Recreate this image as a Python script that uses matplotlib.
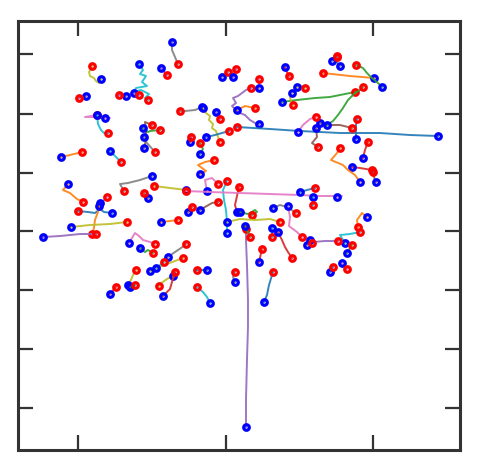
"""Particle tracks in image coordinates: blue ring = first frame, red ring = last frame."""
import matplotlib
matplotlib.use("Agg")
import matplotlib.pyplot as plt

# track colours follow the tab10 names, one per track
track_colors = [
    "tab:olive", "tab:purple", "tab:cyan", "tab:purple", "tab:purple",
    "tab:purple", "tab:gray", "tab:pink", "tab:cyan", "tab:orange",
    "tab:cyan", "tab:brown", "tab:green", "tab:gray", "tab:gray",
    "tab:purple", "tab:red", "tab:purple", "tab:pink", "tab:orange",
    "tab:blue", "tab:gray", "tab:olive", "tab:purple", "tab:blue",
    "tab:red", "tab:green", "tab:orange", "tab:pink", "tab:cyan",
    "tab:red", "tab:olive", "tab:pink", "tab:gray", "tab:brown",
    "tab:orange", "tab:blue", "tab:pink", "tab:orange", "tab:olive",
    "tab:purple", "tab:orange", "tab:pink", "tab:green", "tab:gray",
    "tab:olive", "tab:cyan", "tab:olive", "tab:green", "tab:red",
    "tab:olive", "tab:red", "tab:blue", "tab:cyan", "tab:gray",
    "tab:blue", "tab:purple", "tab:green", "tab:green", "tab:olive",
    "tab:gray", "tab:pink", "tab:cyan", "tab:red", "tab:red",
    "tab:blue", "tab:cyan", "tab:orange", "tab:cyan", "tab:green",
    "tab:purple", "tab:cyan", "tab:blue", "tab:pink", "tab:red",
    "tab:orange", "tab:brown", "tab:red", "tab:blue", "tab:brown",
    "tab:brown", "tab:pink", "tab:green", "tab:green", "tab:olive",
    "tab:olive", "tab:orange", "tab:green", "tab:gray", "tab:gray",
    "tab:red", "tab:brown",
]

# x positions (pixels) of each track, first point = start
track_x = [
    [101, 99, 96, 94, 90, 89, 91, 92],
    [86, 79],
    [139, 143, 140, 146, 142, 147, 136, 134, 141, 149, 145, 148],
    [134, 139],
    [126, 119],
    [161, 167],
    [172, 172, 175, 178],
    [105, 110, 95, 85, 97],
    [97, 98, 101, 104, 108],
    [61, 70, 82],
    [110, 114, 118, 121],
    [144, 146, 146, 145, 152],
    [143, 148, 150, 160],
    [144, 147, 155],
    [222, 228],
    [233, 236],
    [285, 287, 289],
    [259, 255, 250, 245, 240, 236, 232, 236, 233, 238, 242, 246, 251],
    [259, 259],
    [237, 245, 255],
    [438, 410, 380, 340, 300, 270, 237],
    [202, 195, 185, 180],
    [203, 206, 210, 209, 213, 212, 216, 218, 220],
    [216, 219, 220],
    [206, 215, 222, 229],
    [190, 191],
    [200, 203, 200],
    [200, 206, 198, 205, 214],
    [207, 205, 212, 218],
    [227, 227, 226, 224, 223, 227],
    [237, 235, 237, 239],
    [186, 170, 154],
    [337, 342, 320, 300, 270, 240, 210, 186],
    [152, 140, 128, 120, 124],
    [148, 144],
    [68, 63, 70, 77, 83],
    [112, 104, 100, 95, 88, 78],
    [100, 104, 107],
    [99, 98, 95, 94, 92],
    [71, 90, 110, 127],
    [43, 60, 80, 96],
    [161, 170, 178],
    [129, 135, 139, 143, 150, 155],
    [140, 145, 148, 153],
    [168, 175, 181, 186],
    [150, 162, 175, 183],
    [156, 164],
    [128, 131, 133, 136],
    [130, 135],
    [110, 116],
    [173, 167, 160, 159],
    [163, 170, 172, 175],
    [207, 197],
    [210, 207, 203, 197],
    [235, 233, 235],
    [264, 267, 269, 273],
    [246, 246, 247, 248, 248, 247, 246, 246],
    [245, 248, 250],
    [240, 248, 255, 257, 252],
    [227, 240, 255, 270, 280],
    [273, 280, 287, 296],
    [288, 290, 289, 297, 302],
    [272, 272, 272],
    [278, 282, 285, 288, 292],
    [259, 262],
    [300, 307, 315],
    [313, 313, 313],
    [367, 362, 357, 358],
    [345, 340, 350, 360],
    [347, 350, 352],
    [307, 313, 325, 338],
    [310, 312],
    [330, 333],
    [342, 347],
    [352, 360, 372],
    [360, 355, 348, 343, 331, 337, 340],
    [376, 374, 373],
    [363, 365, 368],
    [356, 356, 356, 357],
    [320, 330, 340, 352],
    [316, 317, 312, 318],
    [298, 303, 310, 316],
    [282, 297, 315, 330, 345, 355],
    [327, 333, 338, 343, 348, 355, 360, 363],
    [292, 290, 293],
    [297, 301, 305],
    [374, 350, 323],
    [382, 378, 372, 367, 363, 356],
    [340, 336, 337],
    [332, 337],
    [188, 192],
    [200, 205, 212, 218],
]

# y positions (pixels, image rows) matching track_x
track_y = [
    [79, 83, 81, 78, 76, 72, 69, 66],
    [96, 98],
    [64, 70, 74, 76, 82, 86, 88, 92, 90, 94, 98, 100],
    [93, 95],
    [96, 95],
    [68, 75],
    [42, 50, 57, 64],
    [118, 118, 117, 117, 115],
    [115, 124, 130, 133, 133],
    [157, 155, 152],
    [151, 155, 159, 162],
    [148, 140, 130, 122, 125],
    [128, 132, 131, 130],
    [137, 143, 152],
    [77, 72],
    [77, 69],
    [67, 72, 76],
    [124, 123, 120, 115, 113, 110, 106, 103, 98, 96, 93, 90, 88],
    [88, 79],
    [110, 106, 108],
    [136, 135, 133, 133, 131, 129, 127],
    [107, 110, 111, 111],
    [108, 113, 116, 120, 124, 128, 131, 137, 142],
    [112, 116, 119],
    [137, 135, 133, 131],
    [142, 137],
    [154, 149, 143],
    [174, 171, 165, 162, 160],
    [191, 180, 178, 184],
    [233, 222, 210, 200, 190, 181],
    [212, 205, 196, 187],
    [190, 188, 186],
    [197, 196, 196, 195, 194, 193, 192, 191],
    [176, 180, 183, 184, 191],
    [198, 193],
    [184, 190, 193, 199, 202],
    [213, 212, 209, 213, 212, 211],
    [203, 200, 197],
    [206, 212, 220, 228, 234],
    [227, 225, 224, 222],
    [237, 236, 234, 234],
    [222, 221, 220],
    [243, 233, 236, 240, 242, 244],
    [248, 252, 250, 253],
    [257, 252, 248, 244],
    [271, 266, 261, 258],
    [268, 262],
    [285, 280, 275, 270],
    [287, 285],
    [294, 287],
    [276, 279, 284, 286],
    [296, 289, 282, 272],
    [270, 270],
    [303, 297, 292, 287],
    [282, 277, 272],
    [302, 295, 285, 272],
    [427, 400, 360, 327, 300, 265, 240, 229],
    [226, 232, 237],
    [212, 214, 210, 212, 215],
    [222, 219, 220, 219, 222],
    [208, 205, 207, 213],
    [206, 217, 226, 232, 237],
    [228, 233, 237],
    [232, 240, 247, 252, 258],
    [262, 249],
    [192, 190, 188],
    [197, 202, 205],
    [217, 213, 220, 227],
    [243, 235, 234, 232],
    [253, 248, 245],
    [245, 242, 241, 241],
    [240, 243],
    [272, 267],
    [263, 269],
    [167, 168, 170],
    [182, 175, 170, 165, 160, 153, 148],
    [182, 177, 172],
    [158, 150, 142],
    [139, 132, 125, 119],
    [123, 125, 125, 128],
    [128, 137, 143, 147],
    [132, 125, 119, 117],
    [102, 100, 98, 97, 94, 92],
    [125, 121, 115, 108, 100, 93, 90, 87],
    [93, 98, 105],
    [87, 86, 88],
    [78, 76, 73],
    [87, 83, 78, 73, 68, 65],
    [66, 61, 56],
    [61, 57],
    [212, 207],
    [210, 207, 203, 202],
]

# field of view and tick grid of the camera frame (pixels)
x_range = (18.5, 460.0)
y_range = (450.0, 21.0)
x_ticks = [77.7, 225.7, 373.3]
y_ticks = [54.3, 113.5, 172.7, 231.0, 290.0, 349.0, 407.7]


def main():
    fig = plt.figure(figsize=(4.79, 4.67), dpi=100)
    ax = fig.add_axes([0.0386, 0.0364, 0.9217, 0.9186])

    for xs, ys, c in zip(track_x, track_y, track_colors):
        ax.plot(xs, ys, "-", color=c, lw=1.4, alpha=0.9)
        ax.plot(xs[0], ys[0], "o", ms=4.0, mfc="none", mec="#0000ff", mew=2.3)
        ax.plot(xs[-1], ys[-1], "o", ms=4.0, mfc="none", mec="#ff0000", mew=2.3)

    ax.set_xlim(*x_range)
    ax.set_ylim(*y_range)
    ax.set_xticks(x_ticks)
    ax.set_yticks(y_ticks)
    ax.tick_params(direction="in", length=11, width=1.6, color="#333333",
                   top=True, right=True, labelbottom=False, labelleft=False)
    for sp in ax.spines.values():
        sp.set_linewidth(2.2)
        sp.set_color("#333333")

    fig.savefig("out.png", dpi=100)


if __name__ == "__main__":
    main()
